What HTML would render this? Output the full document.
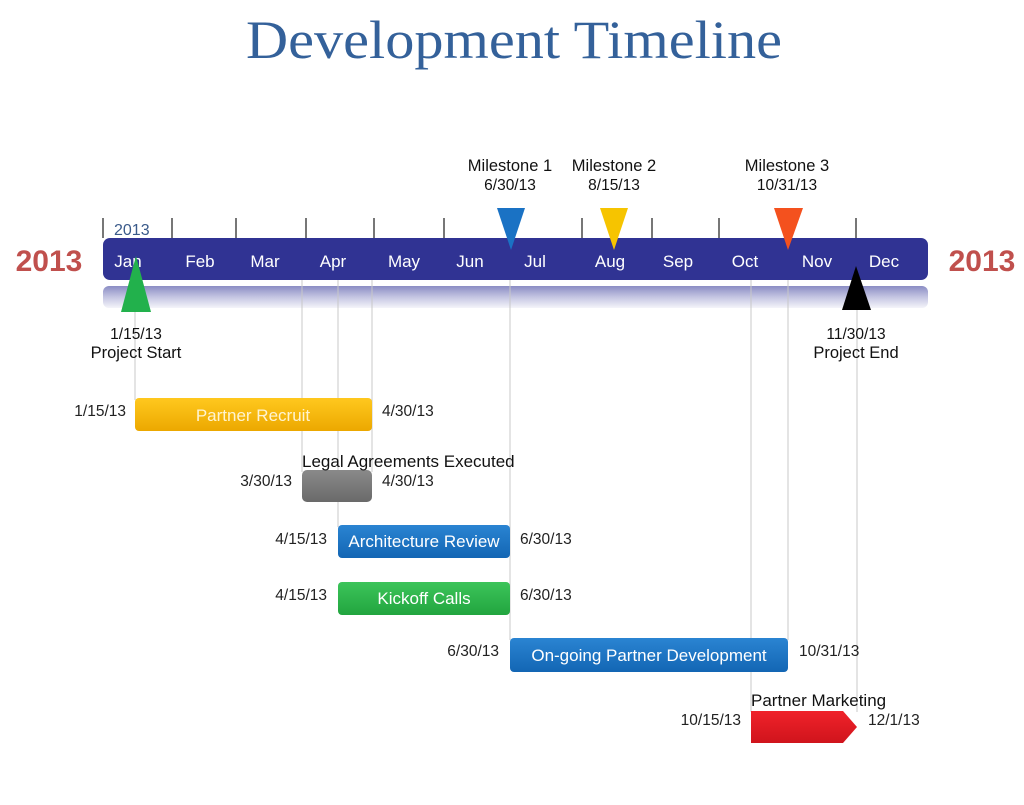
<!DOCTYPE html>
<html><head><meta charset="utf-8"><style>
html,body{margin:0;padding:0;background:#fff;}
svg{display:block;}
text{font-family:"Liberation Sans",sans-serif;}
</style></head><body>
<svg width="1024" height="805" viewBox="0 0 1024 805" xmlns="http://www.w3.org/2000/svg">
<defs>
<linearGradient id="shadow" x1="0" y1="0" x2="0" y2="1">
<stop offset="0" stop-color="#8a8cc4"/><stop offset="0.5" stop-color="#c4c5e2"/><stop offset="1" stop-color="#f4f4fa"/></linearGradient>
<linearGradient id="org" x1="0" y1="0" x2="0" y2="1"><stop offset="0" stop-color="#ffc81e"/><stop offset="1" stop-color="#eca800"/></linearGradient>
<linearGradient id="gry" x1="0" y1="0" x2="0" y2="1"><stop offset="0" stop-color="#8a8a8a"/><stop offset="1" stop-color="#6a6a6a"/></linearGradient>
<linearGradient id="blu" x1="0" y1="0" x2="0" y2="1"><stop offset="0" stop-color="#2a84d2"/><stop offset="1" stop-color="#1366b4"/></linearGradient>
<linearGradient id="grn" x1="0" y1="0" x2="0" y2="1"><stop offset="0" stop-color="#3cc45a"/><stop offset="1" stop-color="#22a53f"/></linearGradient>
<linearGradient id="red" x1="0" y1="0" x2="0" y2="1"><stop offset="0" stop-color="#f0222a"/><stop offset="1" stop-color="#d0141c"/></linearGradient>
</defs>
<text x="514" y="58" text-anchor="middle" style="font-family:'Liberation Serif',serif" font-size="54" fill="#34619a" textLength="536" lengthAdjust="spacingAndGlyphs">Development Timeline</text>

<g stroke="#777" stroke-width="2">
<line x1="103" y1="218" x2="103" y2="238"/><line x1="172" y1="218" x2="172" y2="238"/>
<line x1="236" y1="218" x2="236" y2="238"/><line x1="306" y1="218" x2="306" y2="238"/>
<line x1="374" y1="218" x2="374" y2="238"/><line x1="444" y1="218" x2="444" y2="238"/>
<line x1="582" y1="218" x2="582" y2="238"/><line x1="652" y1="218" x2="652" y2="238"/>
<line x1="719" y1="218" x2="719" y2="238"/><line x1="856" y1="218" x2="856" y2="238"/>
</g>
<text x="114" y="235" font-size="16" fill="#3a5a8a">2013</text>

<rect x="103" y="286" width="825" height="22" rx="6" fill="url(#shadow)"/>

<g stroke="#c8c8c8" stroke-width="1">
<line x1="135" y1="290" x2="135" y2="400"/>
<line x1="302" y1="280" x2="302" y2="472"/>
<line x1="338" y1="280" x2="338" y2="527"/>
<line x1="372" y1="280" x2="372" y2="472"/>
<line x1="510" y1="250" x2="510" y2="640"/>
<line x1="751" y1="280" x2="751" y2="712"/>
<line x1="788" y1="250" x2="788" y2="640"/>
<line x1="857" y1="300" x2="857" y2="712"/>
</g>

<rect x="103" y="238" width="825" height="42" rx="7" fill="#303393"/>
<g fill="#fff" font-size="17" text-anchor="middle" style="font-family:'DejaVu Sans',sans-serif">
<text x="128" y="267">Jan</text><text x="200" y="267">Feb</text><text x="265" y="267">Mar</text>
<text x="333" y="267">Apr</text><text x="404" y="267">May</text><text x="470" y="267">Jun</text>
<text x="535" y="267">Jul</text><text x="610" y="267">Aug</text><text x="678" y="267">Sep</text>
<text x="745" y="267">Oct</text><text x="817" y="267">Nov</text><text x="884" y="267">Dec</text>
</g>
<text x="49" y="271" text-anchor="middle" font-size="30" font-weight="bold" fill="#c0504d">2013</text>
<text x="982" y="271" text-anchor="middle" font-size="30" font-weight="bold" fill="#c0504d">2013</text>

<polygon points="497,208 525,208 511,250" fill="#1a72c4"/>
<polygon points="600,208 628,208 614,250" fill="#f6c400"/>
<polygon points="774,208 803,208 788,250" fill="#f4511e"/>
<polygon points="121,312 151,312 136,256" fill="#22b14c"/>
<polygon points="842,310 871,310 856,266" fill="#000"/>

<g font-size="16.5" fill="#111" text-anchor="middle">
<text x="510" y="171">Milestone 1</text><text x="510" y="190" font-size="15.5">6/30/13</text>
<text x="614" y="171">Milestone 2</text><text x="614" y="190" font-size="15.5">8/15/13</text>
<text x="787" y="171">Milestone 3</text><text x="787" y="190" font-size="15.5">10/31/13</text>
<text x="136" y="339" font-size="15.5">1/15/13</text><text x="136" y="358">Project Start</text>
<text x="856" y="339" font-size="15.5">11/30/13</text><text x="856" y="358">Project End</text>
</g>

<rect x="135" y="398" width="237" height="33" rx="4" fill="url(#org)"/>
<rect x="302" y="470" width="70" height="32" rx="5" fill="url(#gry)"/>
<rect x="338" y="525" width="172" height="33" rx="4" fill="url(#blu)"/>
<rect x="338" y="582" width="172" height="33" rx="4" fill="url(#grn)"/>
<rect x="510" y="638" width="278" height="34" rx="4" fill="url(#blu)"/>
<polygon points="751,711 843,711 857,727 843,743 751,743" fill="url(#red)"/>

<g font-size="17" fill="#fff" text-anchor="middle">
<text x="253" y="421" fill="#fff4d0">Partner Recruit</text>
<text x="424" y="547">Architecture Review</text>
<text x="424" y="604">Kickoff Calls</text>
<text x="649" y="661">On-going Partner Development</text>
</g>
<g font-size="17" fill="#111">
<text x="302" y="467">Legal Agreements Executed</text>
<text x="751" y="706">Partner Marketing</text>
</g>
<g font-size="15.5" fill="#222">
<text x="126" y="416" text-anchor="end">1/15/13</text>
<text x="382" y="416">4/30/13</text>
<text x="292" y="486" text-anchor="end">3/30/13</text>
<text x="382" y="486">4/30/13</text>
<text x="327" y="544" text-anchor="end">4/15/13</text>
<text x="520" y="544">6/30/13</text>
<text x="327" y="600" text-anchor="end">4/15/13</text>
<text x="520" y="600">6/30/13</text>
<text x="499" y="656" text-anchor="end">6/30/13</text>
<text x="799" y="656">10/31/13</text>
<text x="741" y="725" text-anchor="end">10/15/13</text>
<text x="868" y="725">12/1/13</text>
</g>
</svg>
</body></html>
